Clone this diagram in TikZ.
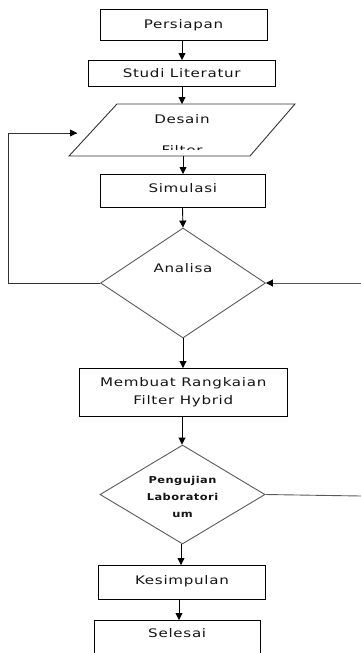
\documentclass[tikz,border=0pt]{standalone}
\usepackage{fontspec}
\setmainfont{DejaVu Sans}[FakeStretch=1.28, LetterSpace=6]
\newfontfamily\pengfont{DejaVu Sans}[FakeStretch=1.2, LetterSpace=5]
\usetikzlibrary{arrows.meta,shapes.geometric}
\begin{document}
\begin{tikzpicture}[x=1pt,y=-1pt,
  every node/.style={font=\fontsize{11.8}{18}\selectfont, text=black!92, inner sep=0pt},
  proc/.style={draw=black, line width=0.9pt},
  dec/.style={draw=black!65, line width=0.9pt, diamond},
  arr/.style={draw=black, line width=0.9pt, -{Triangle[length=7pt,width=7pt]}},
  conn/.style={draw=black!65, line width=0.9pt}]
\clip (0,0) rectangle (361,653);
\useasboundingbox (0,0) rectangle (361,653);

% boxes
\node[proc, minimum width=167pt, text height=19pt, text depth=12pt, anchor=north] (persiapan) at (183.5,9) {Persiapan};
\node[proc, minimum width=186.5pt, text height=17pt, text depth=9pt, anchor=north] (studi) at (181.7,60) {Studi Literatur};

% parallelogram
\coordinate (p1) at (117,104);
\coordinate (p2) at (295,104);
\coordinate (p3) at (250,156);
\coordinate (p4) at (69,156);
\draw[conn, draw=black!80] (p1) -- (p2) -- (p3) -- (p4) -- cycle;
\node[anchor=base] (desain) at (182,123) {Desain};
\begin{scope}
  \clip (60,140) rectangle (300,149);
  \node[anchor=base] (filter) at (182,154.5) {Filter};
\end{scope}
\coordinate (ptop) at (182,104);
\coordinate (pbot) at (183,156);

\node[proc, minimum width=165.7pt, text height=18pt, text depth=15pt, anchor=north] (simulasi) at (182.8,174) {Simulasi};

% Analisa diamond
\node[dec, minimum width=165pt, minimum height=110pt] (analisa) at (183,283) {};
\node[anchor=base] (analisaT) at (183,272) {Analisa};

\node[proc, minimum width=208.7pt, minimum height=48pt, align=center] (membuat) at (183.3,392.5) {Membuat Rangkaian\\Filter Hybrid};

% Pengujian diamond
\node[dec, minimum width=165pt, minimum height=99pt] (pengujian) at (182.5,494.5) {};
\node[align=center, font=\pengfont\bfseries\fontsize{9.5}{17}\selectfont] (pengT) at (182.5,496.6) {Pengujian\\Laboratori\\um};

\node[proc, minimum width=167.4pt, text height=19pt, text depth=15pt, anchor=north] (kesimpulan) at (182,565) {Kesimpulan};
\node[proc, minimum width=165.7pt, text height=17pt, text depth=40pt, anchor=north] (selesai) at (177.2,620) {Selesai};

% connectors
\draw[arr] (persiapan.south -| 182,0) -- (studi.north -| 182,0);
\draw[arr] (studi.south -| 182,0) -- (ptop);
\draw[arr] (pbot) -- (simulasi.north -| 183,0);
\draw[arr] (simulasi.south -| 182.5,0) -- (analisa.north);
\draw[arr] (analisa.south) -- (membuat.north -| analisa.south);
\draw[arr] (membuat.south -| 182,0) -- (pengujian.north -| 182,0);
\draw[arr] (pengujian.south -| 181,0) -- (kesimpulan.north -| 181,0);
\draw[arr] (kesimpulan.south -| 179,0) -- (selesai.north -| 179,0);

% loops
\coordinate (loopL) at (8,283);
\coordinate (loopTip) at (77,133);
\draw[conn, draw=black!80] (analisa.west) -- (loopL) |- (loopTip);
\draw[arr] ([xshift=-8pt]loopTip) -- (loopTip);
\coordinate (rightIn) at (361,283);
\draw[conn, -{Triangle[length=7pt,width=7pt,color=black,fill=black]}] (rightIn) -- (analisa.east);
\coordinate (rightOut) at (361,496);
\draw[conn] (pengujian.east) -- (rightOut);
\end{tikzpicture}
\end{document}
